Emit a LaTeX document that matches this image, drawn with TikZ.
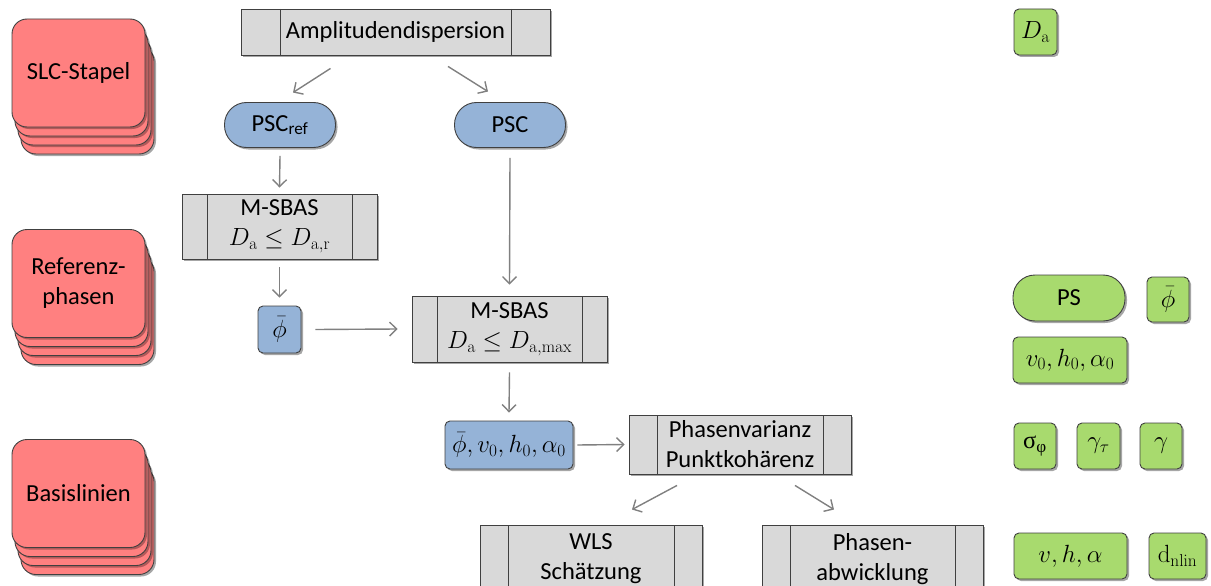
\documentclass[tikz,border=0pt]{standalone}
\usepackage{amsmath}
\usepackage[no-math]{fontspec}
\setmainfont{Carlito}
\newfontfamily\grkfont{Liberation Serif}
\usetikzlibrary{shadows,arrows.meta,calc}
\definecolor{redfill}{HTML}{FF8080}
\definecolor{bluefill}{HTML}{95B3D7}
\definecolor{greenfill}{HTML}{A8DA6E}
\definecolor{grayfill}{HTML}{D9D9D9}
\definecolor{edge}{HTML}{404040}
\definecolor{arrowgray}{HTML}{808080}
\begin{document}
\begin{tikzpicture}[x=1pt,y=-1pt,
  font=\fontsize{24.5}{30}\selectfont,
  shad/.style={drop shadow={shadow xshift=2pt,shadow yshift=-2pt,opacity=0.35,fill=black}},
  base/.style={draw=edge,line width=0.9pt,inner sep=0pt,align=center,shad},
  proc/.style={base,fill=grayfill,rectangle,
    path picture={
      \draw[edge,line width=0.9pt] ([xshift=#1]path picture bounding box.north west) -- ([xshift=#1]path picture bounding box.south west);
      \draw[edge,line width=0.9pt] ([xshift=-#1]path picture bounding box.north east) -- ([xshift=-#1]path picture bounding box.south east);}},
  bluebox/.style={base,fill=bluefill,rounded corners=5pt},
  greenbox/.style={base,fill=greenfill,rounded corners=5pt},
  pill/.style={rounded corners=22pt},
  stackbox/.style={draw=edge,line width=0.9pt,fill=redfill,rounded corners=15pt,align=center,inner sep=0pt,
    minimum width=133pt,minimum height=108pt,
    general shadow={shadow xshift=11pt,shadow yshift=-29pt,fill=black,opacity=0.35},
    general shadow={shadow xshift=9pt,shadow yshift=-27pt,fill=redfill,draw=edge,line width=0.9pt},
    general shadow={shadow xshift=8pt,shadow yshift=-20pt,fill=black,opacity=0.3},
    general shadow={shadow xshift=6pt,shadow yshift=-18pt,fill=redfill,draw=edge,line width=0.9pt},
    general shadow={shadow xshift=5pt,shadow yshift=-11pt,fill=black,opacity=0.3},
    general shadow={shadow xshift=3pt,shadow yshift=-9pt,fill=redfill,draw=edge,line width=0.9pt},
    general shadow={shadow xshift=2pt,shadow yshift=-2pt,fill=black,opacity=0.3}},
  conn/.style={draw=arrowgray,line width=1.4pt,-{Straight Barb[length=7pt,width=14pt]}}
]
\useasboundingbox (0,0) rectangle (1211,586);

% red stacks
\node[stackbox] (slc) at (78.5,73) {SLC-Stapel};
\node[stackbox] (ref) at (78.5,283.5) {Referenz-\\phasen};
\node[stackbox] (bas) at (78.5,493.5) {Basislinien};

% process boxes
\node[proc=39pt,minimum width=309pt,minimum height=46pt] (amp) at (395.5,32) {Amplitudendispersion};
\node[proc=25pt,minimum width=195pt,minimum height=65pt] (ms1) at (279.5,226.5) {M-SBAS\\$D_{\mathrm{a}}\leq D_{\mathrm{a,r}}$};
\node[proc=25pt,minimum width=195pt,minimum height=66pt] (ms2) at (509.5,329) {M-SBAS\\$D_{\mathrm{a}}\leq D_{\mathrm{a,max}}$};
\node[proc=28pt,minimum width=222pt,minimum height=59pt] (phv) at (740,444.5) {Phasenvarianz\\Punktkohärenz};
\node[proc=28pt,minimum width=222pt,minimum height=68pt] (wls) at (591,559) {WLS\\Schätzung};
\node[proc=28pt,minimum width=221pt,minimum height=68pt] (pha) at (872.5,559) {Phasen-\\abwicklung};

% blue boxes
\node[bluebox,pill,minimum width=111pt,minimum height=45pt] (pscref) at (280,125) {PSC\textsubscript{ref}};
\node[bluebox,pill,minimum width=111pt,minimum height=45pt] (psc) at (510,125) {PSC};
\node[bluebox,minimum width=43pt,minimum height=47pt] (phi) at (279.5,329.5) {$\bar{\phi}$};
\node[bluebox,minimum width=128pt,minimum height=48pt] (par) at (509,445) {$\bar{\phi},v_0,h_0,\alpha_0$};

% green legend boxes
\node[greenbox,minimum width=43pt,minimum height=46pt] (gda) at (1035.5,32) {$D_{\mathrm{a}}$};
\node[greenbox,pill,minimum width=112pt,minimum height=46pt] (gps) at (1069,298) {PS};
\node[greenbox,minimum width=42pt,minimum height=45pt] (gphi) at (1168,299.5) {$\bar{\phi}$};
\node[greenbox,minimum width=114pt,minimum height=46pt] (gv0) at (1070,360) {$v_0,h_0,\alpha_0$};
\node[greenbox,minimum width=42pt,minimum height=46pt] (gsig) at (1035,446) {$\text{\grkfont σ}_{\text{\grkfont φ}}$};
\node[greenbox,minimum width=43pt,minimum height=46pt] (ggt) at (1098.5,446) {$\gamma_\tau$};
\node[greenbox,minimum width=42pt,minimum height=46pt] (gg) at (1161,446) {$\gamma$};
\node[greenbox,minimum width=113pt,minimum height=46pt] (gvha) at (1070.5,556) {$v,h,\alpha$};
\node[greenbox,minimum width=57pt,minimum height=46pt] (gdn) at (1177.5,556) {$\mathrm{d}_{\mathrm{nlin}}$};

% connectors
\draw[conn] ($(amp.south)+(-65,13)$) -- ($(pscref.north)+(13,-9.5)$);
\draw[conn] ($(amp.south)+(52.5,11)$) -- ($(psc.north)+(-22,-10.5)$);
\draw[conn] ($(pscref.south)+(0,8)$) -- ($(ms1.north)+(0,-6)$);
\draw[conn] ($(ms1.south)+(0,8)$) -- ($(phi.north)+(0,-8)$);
\draw[conn] ($(phi.east)+(14,0)$) -- ($(ms2.west)+(-14,0)$);
\draw[conn] ($(psc.south)+(0,10)$) -- ($(ms2.north)+(0,-11)$);
\draw[conn] ($(ms2.south)+(0,10)$) -- ($(par.north)+(0,-8)$);
\draw[conn] ($(par.east)+(4,0)$) -- ($(phv.west)+(-4,0)$);
\draw[conn] ($(phv.south)+(-63,11)$) -- ($(wls.north)+(41,-15)$);
\draw[conn] ($(phv.south)+(55,11)$) -- ($(pha.north)+(-38.5,-15)$);
\end{tikzpicture}
\end{document}
